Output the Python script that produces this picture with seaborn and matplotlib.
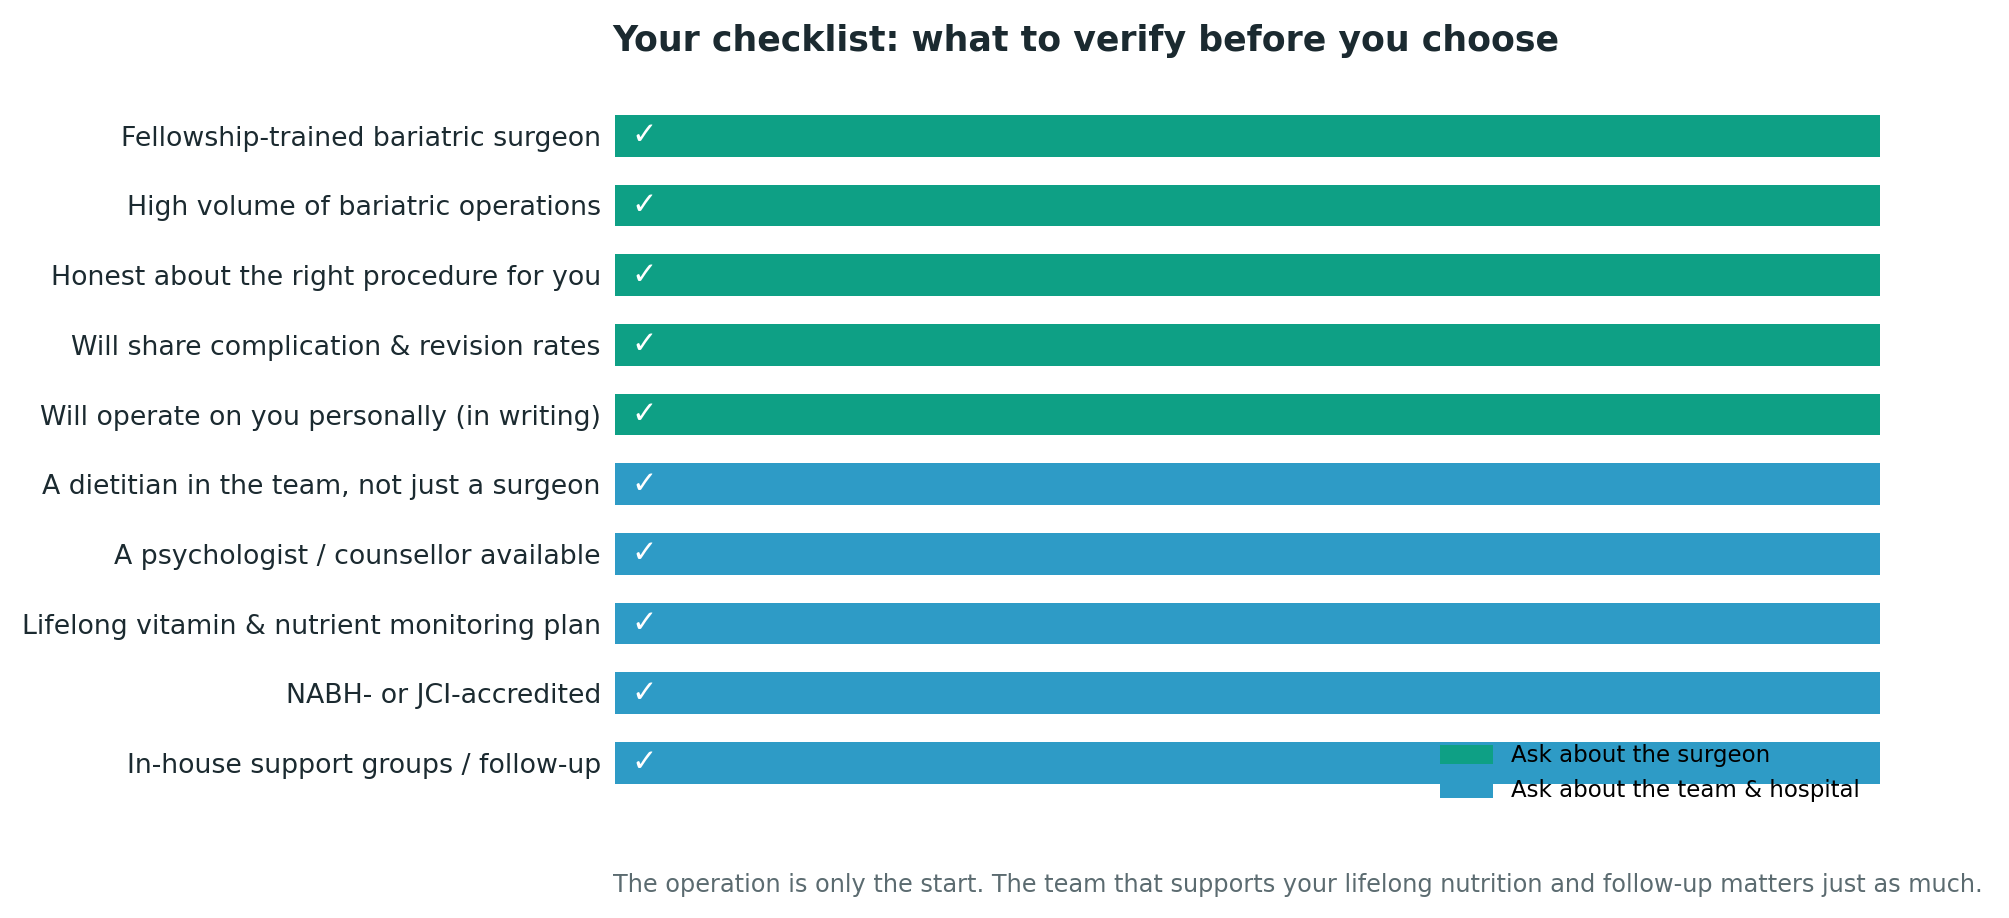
import matplotlib
matplotlib.use("Agg")
import matplotlib.pyplot as plt
import seaborn as sns
import pandas as pd

items = [
    "Fellowship-trained bariatric surgeon",
    "High volume of bariatric operations",
    "Honest about the right procedure for you",
    "Will share complication & revision rates",
    "Will operate on you personally (in writing)",
    "A dietitian in the team, not just a surgeon",
    "A psychologist / counsellor available",
    "Lifelong vitamin & nutrient monitoring plan",
    "NABH- or JCI-accredited",
    "In-house support groups / follow-up",
]
groups = ["Ask about the surgeon"] * 5 + ["Ask about the team & hospital"] * 5
values = [1] * 10

df = pd.DataFrame({"item": items, "group": groups, "value": values})

sns.set_theme(style="white")
plt.rcParams['font.family'] = ['DejaVu Sans']

fig = plt.figure(figsize=(20.09, 9.18), dpi=100)
ax = fig.add_axes([0.306, 0.131, 0.63, 0.759])
palette = {"Ask about the surgeon": "#0ea085", "Ask about the team & hospital": "#2e9bc6"}
sns.barplot(data=df, x="value", y="item", hue="group", palette=palette,
            dodge=False, width=0.6, ax=ax, saturation=1, linewidth=0)

for i in range(len(items)):
    ax.text(0.013, i, "✓", color="white", fontsize=22, va="center", ha="left")

ax.set_xlim(0, 1)
ax.set_xlabel("")
ax.set_ylabel("")
ax.set_xticks([])
ax.tick_params(axis="y", labelsize=19.3, colors="#1b2a30", length=0, pad=10)
sns.despine(ax=ax, left=True, bottom=True)

leg = ax.legend(loc="lower right", frameon=False, fontsize=16.5, bbox_to_anchor=(1.0, -0.035),
                handlelength=2.3, handleheight=0.9)
for t in leg.get_texts():
    t.set_color("black")
for h in leg.legend_handles:
    h.set_linewidth(0)

ax.set_title("Your checklist: what to verify before you choose", loc="left",
             fontsize=25, fontweight="bold", color="#1b2a30", pad=36, x=-0.002)
fig.text(0.305, 0.028, "The operation is only the start. The team that supports your lifelong "
         "nutrition and follow-up matters just as much.", fontsize=17.3, color="#5b6b70")

fig.savefig("out.png", dpi=100)
